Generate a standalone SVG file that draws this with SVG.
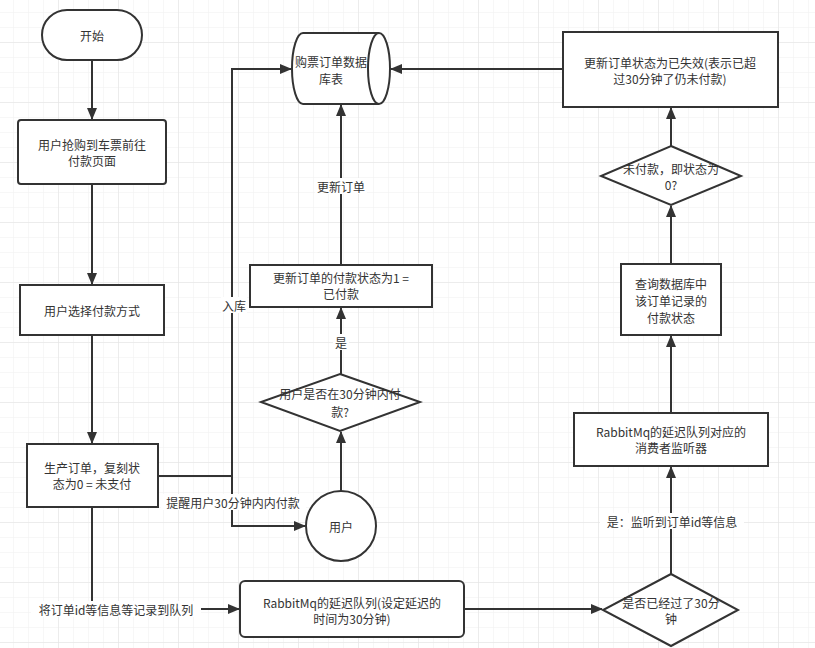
<svg xmlns="http://www.w3.org/2000/svg" width="815" height="648" viewBox="0 0 815 648">
<style>
text{font-family:"Microsoft YaHei","Noto Sans CJK SC","Liberation Sans",sans-serif;font-size:12px;fill:#333;text-anchor:middle;dominant-baseline:central}
.shape{fill:#fff;stroke:#333;stroke-width:2}
.edge{fill:none;stroke:#333;stroke-width:2}
.lbl{fill:#fff}
</style>
<defs>
<pattern id="gridMinor" patternUnits="userSpaceOnUse" x="13" y="12" width="15" height="15">
<path d="M0,0 V15 M0,0 H15" stroke="#efefef" stroke-width="1" fill="none"/>
</pattern>
<pattern id="gridMajor" patternUnits="userSpaceOnUse" x="58" y="42" width="60" height="60">
<path d="M0,0 V60 M0,0 H60" stroke="#e2e2e2" stroke-width="1" fill="none"/>
</pattern>
<marker id="arr" markerUnits="userSpaceOnUse" markerWidth="12" markerHeight="10" refX="11" refY="5" orient="auto">
<path d="M0,0 L12,5 L0,10 Z" fill="#333"/>
</marker>
</defs>
<rect width="815" height="648" fill="#fff"/>
<rect width="815" height="648" fill="url(#gridMinor)"/>
<rect width="815" height="648" fill="url(#gridMajor)"/>

<g id="connectors">
<path class="edge" d="M92,60 V119" marker-end="url(#arr)"/>
<path class="edge" d="M92,184 V284" marker-end="url(#arr)"/>
<path class="edge" d="M92,335 V443" marker-end="url(#arr)"/>
<path class="edge" d="M158,476 H232 V69 H291" marker-end="url(#arr)"/>
<path class="edge" d="M158,476 H232 V526 H305" marker-end="url(#arr)"/>
<path class="edge" d="M341,491 V432" marker-end="url(#arr)"/>
<path class="edge" d="M341,374 V308" marker-end="url(#arr)"/>
<path class="edge" d="M341,265 V105" marker-end="url(#arr)"/>
<path class="edge" d="M563,69 H391" marker-end="url(#arr)"/>
<path class="edge" d="M671,146 V108" marker-end="url(#arr)"/>
<path class="edge" d="M671,264 V206" marker-end="url(#arr)"/>
<path class="edge" d="M671,413 V336" marker-end="url(#arr)"/>
<path class="edge" d="M671,574 V467" marker-end="url(#arr)"/>
<path class="edge" d="M464,609 H602" marker-end="url(#arr)"/>
<path class="edge" d="M92,507 V609 H239" marker-end="url(#arr)"/>
<rect class="lbl" x="221" y="297" width="26" height="16"/>
<text x="234" y="305">入库</text>
<rect class="lbl" x="161" y="494" width="145" height="16"/>
<text x="233" y="502">提醒用户30分钟内内付款</text>
<rect class="lbl" x="31" y="601" width="170" height="16"/>
<text x="116" y="609">将订单id等信息等记录到队列</text>
<rect class="lbl" x="333" y="334" width="16" height="16"/>
<text x="341" y="342">是</text>
<rect class="lbl" x="315" y="178" width="52" height="16"/>
<text x="341" y="186">更新订单</text>
<rect class="lbl" x="600" y="513" width="144" height="16"/>
<text x="672" y="521">是：监听到订单id等信息</text>
</g>

<g id="start">
<rect class="shape" x="42" y="10" width="100" height="50" rx="25"/>
<text x="92" y="35">开始</text>
</g>
<g id="grab-ticket">
<rect class="shape" x="18" y="120" width="148" height="64" rx="3"/>
<text x="92" y="144">用户抢购到车票前往</text>
<text x="92" y="160">付款页面</text>
</g>
<g id="choose-pay">
<rect class="shape" x="20" y="285" width="144" height="50"/>
<text x="92" y="310">用户选择付款方式</text>
</g>
<g id="create-order">
<rect class="shape" x="27" y="444" width="131" height="63"/>
<text x="92" y="467">生产订单，复刻状</text>
<text x="92" y="483">态为0 = 未支付</text>
</g>
<g id="db">
<path class="shape" d="M303,33 H379 A11,35.5 0 0 1 379,104 H303 A11,35.5 0 0 1 303,33 Z"/>
<path class="edge" d="M379,33 A11,35.5 0 0 0 379,104"/>
<text x="331" y="61">购票订单数据</text>
<text x="331" y="78">库表</text>
</g>
<g id="update-paid">
<rect class="shape" x="250" y="265" width="182" height="42"/>
<text x="341" y="277">更新订单的付款状态为1 =</text>
<text x="341" y="293">已付款</text>
</g>
<g id="paid-in-30">
<path class="shape" d="M340,374 L420,402 L340,431 L261,402 Z"/>
<text x="340" y="393">用户是否在30分钟内付</text>
<text x="340" y="411">款?</text>
</g>
<g id="user">
<circle class="shape" cx="341" cy="526" r="35"/>
<text x="341" y="526">用户</text>
</g>
<g id="delay-queue">
<rect class="shape" x="240" y="581" width="224" height="56" rx="5"/>
<text x="352" y="602">RabbitMq的延迟队列(设定延迟的</text>
<text x="352" y="618">时间为30分钟)</text>
</g>
<g id="passed-30">
<path class="shape" d="M671,574 L738,610 L671,646 L603,610 Z"/>
<text x="671" y="602">是否已经过了30分</text>
<text x="671" y="618">钟</text>
</g>
<g id="consumer">
<rect class="shape" x="574" y="413" width="194" height="53"/>
<text x="671" y="431">RabbitMq的延迟队列对应的</text>
<text x="671" y="447">消费者监听器</text>
</g>
<g id="query-db">
<rect class="shape" x="621" y="264" width="100" height="71"/>
<text x="671" y="283">查询数据库中</text>
<text x="671" y="300">该订单记录的</text>
<text x="671" y="317">付款状态</text>
</g>
<g id="unpaid">
<path class="shape" d="M671,146 L741,176 L671,205 L601,176 Z"/>
<text x="671" y="168">未付款，即状态为</text>
<text x="671" y="184">0?</text>
</g>
<g id="expire">
<rect class="shape" x="563" y="32" width="215" height="75"/>
<text x="670" y="62">更新订单状态为已失效(表示已超</text>
<text x="670" y="78">过30分钟了仍未付款)</text>
</g>
</svg>
